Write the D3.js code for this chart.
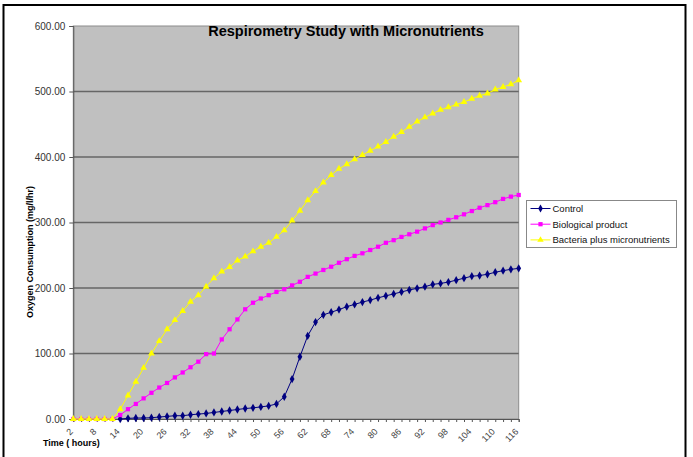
<!DOCTYPE html>
<head>
	<meta charset="utf-8">
	<title>Respirometry Study with Micronutrients</title>
	<style>
	body { margin: 0; background: #fff; }
	text { font-family: "Liberation Sans", Arial, sans-serif; }
	.tick-label { font-size: 10px; fill: #333; }
	.x-label { font-size: 9px; fill: #444; }
	.axis-title { font-size: 9px; font-weight: bold; fill: #000; }
	.legend-text { font-size: 9.5px; fill: #111; }
	</style>
</head>
<body>
<script src="https://d3js.org/d3.v7.min.js"></script>
<script>

var width = 693, height = 457

// time in hours (categories)
var hours = [2, 4, 6, 8, 10, 12, 14, 16, 18, 20, 22, 24, 26, 28, 30, 32, 34, 36, 38, 40,
	42, 44, 46, 48, 50, 52, 54, 56, 58, 60, 62, 64, 66, 68, 70, 72, 74, 76, 78, 80,
	82, 84, 86, 88, 90, 92, 94, 96, 98, 100, 102, 104, 106, 108, 110, 112, 114, 116];

var hourLabels = [2, 8, 14, 20, 26, 32, 38, 44, 50, 56, 62, 68, 74, 80, 86, 92, 98, 104, 110, 116];

var yTicks = [0, 100, 200, 300, 400, 500, 600];

var control = [null, null, null, null, null, null,
	0, 1, 1.5, 1.5, 2, 3, 4, 5, 5, 6.5, 7.5, 8.5, 10, 11.5, 13, 14.5, 16, 17, 18.5, 20,
	23, 34, 61, 95, 127, 148, 159, 163, 167, 171.5, 175, 178.5, 181.5, 185, 188, 191,
	194, 197, 199.5, 202, 205.5, 207, 209, 212, 215, 218, 219, 221, 224, 226.5, 228.5, 230];

var biological = [0, 0, 0, 0, 0, 0,
	6, 15, 23, 31.5, 40, 48, 55, 63.5, 71, 79, 87.5, 99, 100,
	121.5, 137, 152, 167.5, 177.5, 184, 189, 194, 198, 204,
	209.5, 217, 222, 227.5, 232.5, 238.5, 244, 249, 253, 258, 263, 269, 273,
	278, 282, 286, 291, 296, 300, 304, 308, 312.5, 317.5, 322.5, 326.5, 331, 336, 339.5, 342];

var bacteria = [0, 0, 0, 0, 0, 0,
	15, 36, 57, 78, 100, 119, 137, 151, 165, 179, 189, 202, 215, 225, 232, 242, 248,
	256, 263, 269, 278, 288, 303,
	318, 334, 348, 361, 372.5, 382, 389, 396.5, 403, 409.5, 416, 423, 431,
	438, 446, 454, 460.5, 466.5, 472, 476, 480, 484, 489, 493.5, 497, 503, 507, 511, 517];

var seriesNames = ["Control", "Biological product", "Bacteria plus micronutrients"];
var seriesColors = ["#000080", "#ff00ff", "#ffff00"];
var seriesShapes = [d3.symbolDiamond, d3.symbolSquare, d3.symbolTriangle];
var seriesValues = [control, biological, bacteria];

var plot = { left: 73.3, right: 518.7, top: 26, bottom: 419 };

var svg = d3.select("body")
	.append("svg")
	.attr("width", width)
	.attr("height", height);

// outer frame
svg.append("rect")
	.attr("x", 3.5).attr("y", 5)
	.attr("width", 682).attr("height", 460)
	.attr("fill", "#fff")
	.attr("stroke", "#000")
	.attr("stroke-width", 2);

var x = d3.scalePoint()
	.domain(hours)
	.range([plot.left, plot.right]);

var y = d3.scaleLinear()
	.domain([0, 600])
	.range([plot.bottom, plot.top]);

// plot area
svg.append("rect")
	.attr("x", plot.left).attr("y", plot.top)
	.attr("width", plot.right - plot.left).attr("height", plot.bottom - plot.top)
	.attr("fill", "#c0c0c0")
	.attr("stroke", "#8c8c8c")
	.attr("stroke-width", 1);

// gridlines
svg.selectAll(".grid")
	.data(yTicks.filter(function(d) { return d > 0 && d < 600; }))
	.enter().append("line")
	.attr("class", "grid")
	.attr("x1", plot.left).attr("x2", plot.right)
	.attr("y1", function(d) { return y(d); })
	.attr("y2", function(d) { return y(d); })
	.attr("stroke", "#666")
	.attr("stroke-width", 1.5);

// y axis
var yAxis = svg.append("g")
	.attr("transform", "translate(" + plot.left + ",0)")
	.call(d3.axisLeft(y).tickValues(yTicks).tickSize(4).tickFormat(d3.format(".2f")));
yAxis.select(".domain").attr("stroke", "#555");
yAxis.selectAll(".tick line").attr("stroke", "#555");
yAxis.selectAll(".tick text")
	.attr("class", "tick-label")
	.attr("x", -8)
	.attr("fill", "#333")
	.style("font-size", "10px")
	.style("font-family", null);

// x axis
var xAxis = svg.append("g")
	.attr("transform", "translate(0," + plot.bottom + ")")
	.call(d3.axisBottom(x).tickSize(3).tickFormat(""));
xAxis.select(".domain").attr("stroke", "#555");
xAxis.selectAll(".tick line").attr("stroke", "#555");

svg.selectAll(".x-label")
	.data(hourLabels)
	.enter().append("text")
	.attr("class", "x-label")
	.attr("text-anchor", "end")
	.attr("transform", function(d) { return "translate(" + (x(d) - 2) + "," + (plot.bottom + 11) + ") rotate(-45)"; })
	.attr("dy", "0.35em")
	.text(function(d) { return d; });

// lines and markers
var line = d3.line()
	.defined(function(d) { return d != null; })
	.x(function(d, i) { return x(hours[i]); })
	.y(function(d) { return y(d); });

seriesValues.forEach(function(values, s) {
	svg.append("path")
		.datum(values)
		.attr("fill", "none")
		.attr("stroke", seriesColors[s])
		.attr("stroke-width", 1)
		.attr("d", line);

	svg.selectAll(".pt" + s)
		.data(values.map(function(v, i) { return { h: hours[i], v: v }; }).filter(function(d) { return d.v != null; }))
		.enter().append("path")
		.attr("class", "pt" + s)
		.attr("transform", function(d) { return "translate(" + x(d.h) + "," + y(d.v) + ")"; })
		.attr("d", d3.symbol().type(seriesShapes[s]).size(s == 1 ? 18 : 20))
		.attr("fill", seriesColors[s]);
});

// title
svg.append("text")
	.attr("x", 346)
	.attr("y", 36)
	.attr("text-anchor", "middle")
	.style("font-size", "14.5px")
	.style("font-weight", "bold")
	.text("Respirometry Study with Micronutrients");

// axis titles
svg.append("text")
	.attr("class", "axis-title")
	.attr("text-anchor", "middle")
	.attr("transform", "translate(33,252) rotate(-90)")
	.text("Oxygen Consumption (mg/l/hr)");

svg.append("text")
	.attr("class", "axis-title")
	.attr("x", 43)
	.attr("y", 446)
	.text("Time ( hours)");

// legend
var legend = svg.append("g").attr("transform", "translate(526.5,200.5)");
legend.append("rect")
	.attr("width", 150).attr("height", 47)
	.attr("fill", "#fff")
	.attr("stroke", "#888");

seriesNames.forEach(function(name, s) {
	var ly = 8 + s * 15.7;
	legend.append("line")
		.attr("x1", 4).attr("x2", 24)
		.attr("y1", ly).attr("y2", ly)
		.attr("stroke", seriesColors[s]);
	legend.append("path")
		.attr("transform", "translate(14," + ly + ")")
		.attr("d", d3.symbol().type(seriesShapes[s]).size(18))
		.attr("fill", seriesColors[s]);
	legend.append("text")
		.attr("class", "legend-text")
		.attr("x", 26)
		.attr("y", ly)
		.attr("dy", "0.35em")
		.text(name);
});

</script>
